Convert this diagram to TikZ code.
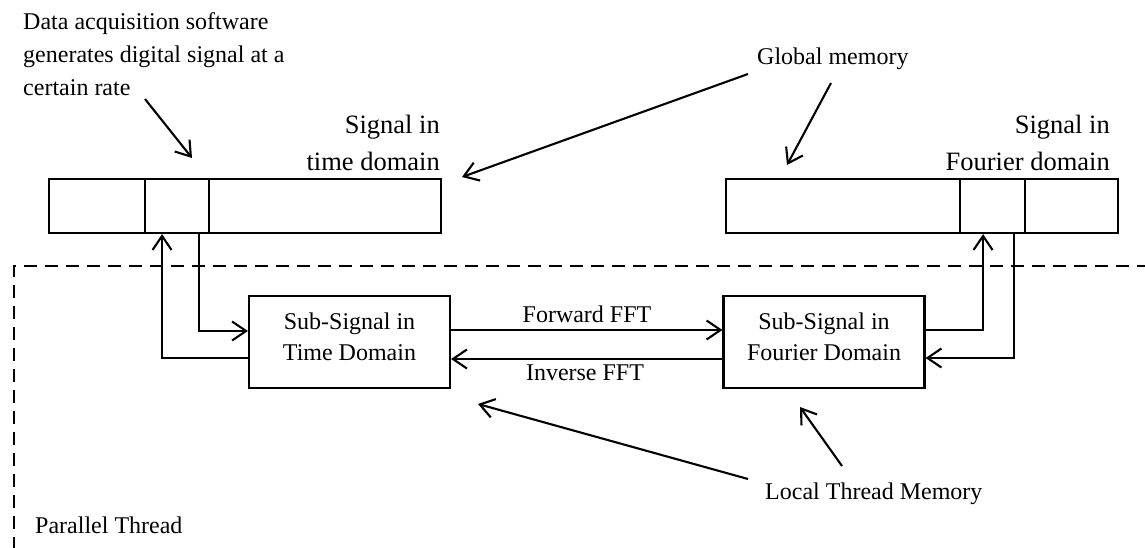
\documentclass[tikz,border=0pt]{standalone}
\usepackage{fontspec}
\setmainfont{Liberation Serif}
\usetikzlibrary{arrows.meta}
\begin{document}
\begin{tikzpicture}[x=1pt,y=-1pt,
  lw/.style={line width=2.1pt},
  cell/.style={draw,lw,inner sep=0pt,minimum height=54pt,anchor=north west},
  subbox/.style={draw,lw,inner sep=0pt,minimum width=201pt,minimum height=92pt,align=center,font=\fontsize{24}{31}\selectfont},
  arr/.style={lw,-{Straight Barb[length=14pt,width=19pt]}},
  lbl/.style={inner sep=0pt,font=\fontsize{24}{33}\selectfont},
  biglbl/.style={inner sep=0pt,align=right,font=\fontsize{26.5}{37}\selectfont},
  frame/.style={line width=2.1pt,dash pattern=on 13pt off 8pt}
]
\useasboundingbox (0,0) rectangle (1145,548);

% parallel thread frame
\coordinate (frR) at (1150,266);
\coordinate (frC) at (14,266);
\coordinate (frB) at (14,552);
\draw[frame] (frR) -- (frC) -- (frB);

% global memory buffers
\node[cell,minimum width=96pt] (b1a) at (48,178) {};
\node[cell,minimum width=64pt] (b1b) at (144,178) {};
\node[cell,minimum width=232pt] (b1c) at (208,178) {};
\node[cell,minimum width=234pt] (b2a) at (725,178) {};
\node[cell,minimum width=65pt] (b2b) at (959,178) {};
\node[cell,minimum width=93pt] (b2c) at (1024,178) {};

% local boxes
\node[subbox] (lt) at (349.5,342) {Sub-Signal in\\Time Domain\rule[-11pt]{0pt}{0pt}};
\node[subbox] (rf) at (824,342) {Sub-Signal in\\Fourier Domain\rule[-11pt]{0pt}{0pt}};

% FFT connectors
\draw[arr] ([yshift=12pt]lt.east) -- ([yshift=12pt]rf.west);
\draw[arr] ([yshift=-17pt]rf.west) -- ([yshift=-17pt]lt.east);
\node[lbl,anchor=base] (fwd) at (587,322) {Forward FFT};
\node[lbl,anchor=base] (inv) at (585,380) {Inverse FFT};

% buffer <-> local connectors
\draw[arr] ([yshift=-16pt]lt.west) -| ([xshift=-15pt]b1b.south);
\draw[arr] ([xshift=22pt]b1b.south) |- ([yshift=11pt]lt.west);
\draw[arr] ([yshift=12pt]rf.east) -| ([xshift=-9.5pt]b2b.south);
\draw[arr] ([xshift=21.5pt]b2b.south) |- ([yshift=-16pt]rf.east);

% labels
\node[lbl,align=left,anchor=north west] (daq) at (23,12.6) {Data acquisition software\\generates digital signal at a\\certain rate};
\node[biglbl,anchor=north east] (sigt) at (440,115) {Signal in\\time domain};
\node[biglbl,anchor=north east] (sigf) at (1110,115) {Signal in\\Fourier domain};
\node[lbl,anchor=base west] (glob) at (757,65) {Global memory};
\node[lbl,anchor=base west] (loc) at (765,499) {Local Thread Memory};
\node[lbl,anchor=base west] (par) at (35,533) {Parallel Thread};

% annotation arrows
\coordinate (daS) at (145,99);
\coordinate (daE) at (192,158);
\draw[arr] (daS) -- (daE);
\coordinate (g1s) at (748,74);
\coordinate (g1e) at (462,177);
\coordinate (g2s) at (831,83);
\coordinate (g2e) at (787,165);
\draw[arr] (g1s) -- (g1e);
\draw[arr] (g2s) -- (g2e);
\coordinate (l1s) at (748,479);
\coordinate (l1e) at (478,404);
\coordinate (l2s) at (842,466);
\coordinate (l2e) at (800,407);
\draw[arr] (l1s) -- (l1e);
\draw[arr] (l2s) -- (l2e);
\end{tikzpicture}
\end{document}
